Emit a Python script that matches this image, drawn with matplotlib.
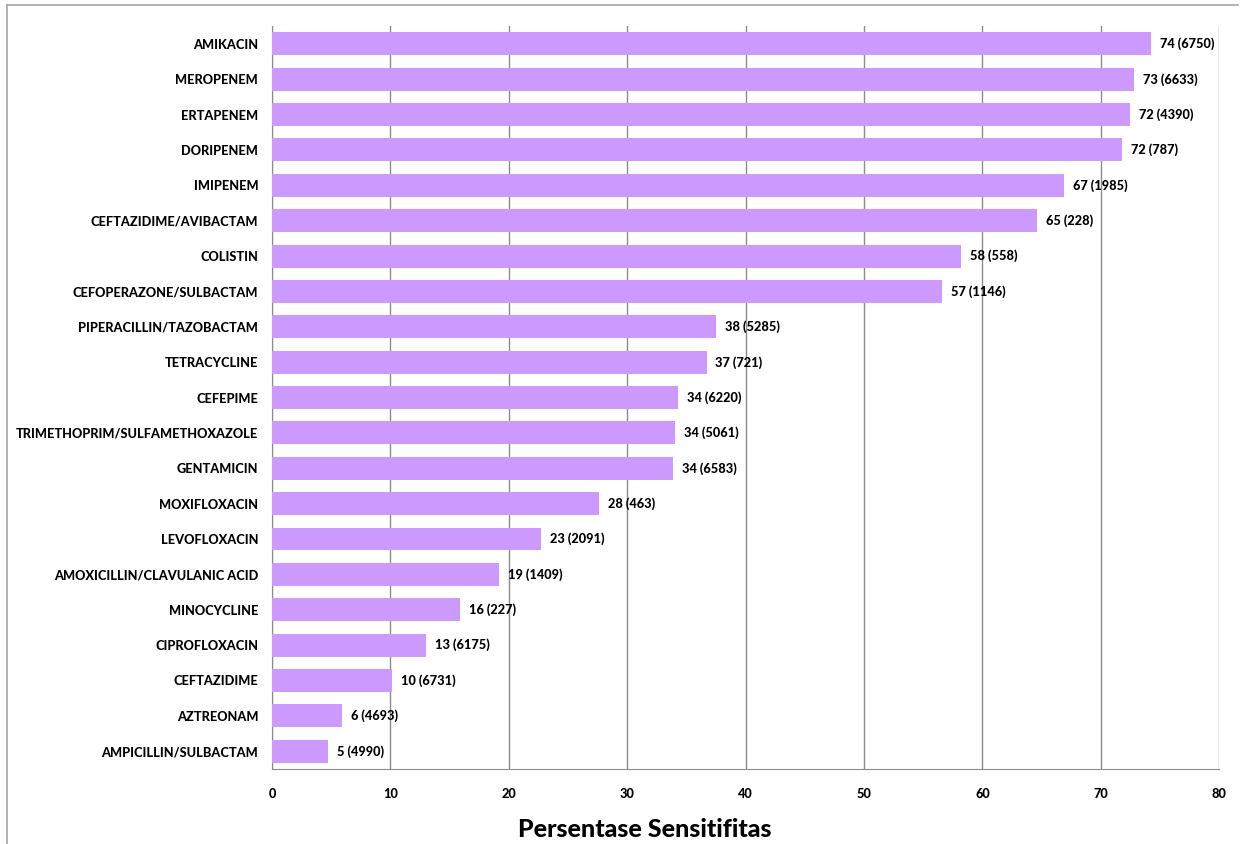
import matplotlib.pyplot as plt
import matplotlib.lines as mlines

# data
antibiotics = [
    "AMIKACIN", "MEROPENEM", "ERTAPENEM", "DORIPENEM", "IMIPENEM",
    "CEFTAZIDIME/AVIBACTAM", "COLISTIN", "CEFOPERAZONE/SULBACTAM",
    "PIPERACILLIN/TAZOBACTAM", "TETRACYCLINE", "CEFEPIME",
    "TRIMETHOPRIM/SULFAMETHOXAZOLE", "GENTAMICIN", "MOXIFLOXACIN",
    "LEVOFLOXACIN", "AMOXICILLIN/CLAVULANIC ACID", "MINOCYCLINE",
    "CIPROFLOXACIN", "CEFTAZIDIME", "AZTREONAM", "AMPICILLIN/SULBACTAM",
]
sensitivity = [74.2, 72.8, 72.5, 71.8, 66.9, 64.6, 58.2, 56.6, 37.5, 36.7,
               34.3, 34.0, 33.9, 27.6, 22.7, 19.2, 15.9, 13.0, 10.1, 5.9, 4.7]
isolates = [6750, 6633, 4390, 787, 1985, 228, 558, 1146, 5285, 721,
            6220, 5061, 6583, 463, 2091, 1409, 227, 6175, 6731, 4693, 4990]

plt.rcParams['font.family'] = ['Lato', 'DejaVu Sans']
W = "black"

fig = plt.figure(figsize=(12.48, 8.44), dpi=100)
ax = fig.add_axes([0.218, 0.089, 0.759, 0.880])

ypos = list(range(len(antibiotics)))
ax.barh(ypos, sensitivity, height=0.65, color="#CC99FF", zorder=3)

for y, v, n in zip(ypos, sensitivity, isolates):
    ax.text(v + 0.75, y, f"{round(v)} ({n})", va="center", ha="left",
            fontsize=9.2, fontweight=W, zorder=4)

ax.set_yticks(ypos)
ax.set_yticklabels(antibiotics, fontsize=9.2, fontweight=W)
ax.set_ylim(len(antibiotics) - 0.5, -0.5)
ax.set_xlim(0, 80)
ax.set_xticks(range(0, 81, 10))
ax.tick_params(axis="x", labelsize=9.2, length=0, pad=14)
ax.tick_params(axis="y", length=0, pad=10)
for lbl in ax.get_xticklabels():
    lbl.set_fontweight(W)

ax.grid(True, axis="x", color="#8c8c8c", linewidth=1, zorder=0)
ax.spines["top"].set_visible(False)
ax.spines["right"].set_visible(False)
ax.spines["left"].set_color("#8c8c8c")
ax.spines["bottom"].set_color("#8c8c8c")

fig.text(0.517, 0.017, "Persentase Sensitifitas", ha="center", va="center",
         fontsize=18, fontweight=W)

# outer chart border (top and left only visible in the crop)
fig.add_artist(mlines.Line2D([7 / 1248, 1238 / 1248], [1 - 5 / 844, 1 - 5 / 844],
                             color="#a6a6a6", linewidth=1.2, transform=fig.transFigure))
fig.add_artist(mlines.Line2D([7 / 1248, 7 / 1248], [0, 1 - 5 / 844],
                             color="#a6a6a6", linewidth=1.2, transform=fig.transFigure))

fig.savefig("out.png", dpi=100)
